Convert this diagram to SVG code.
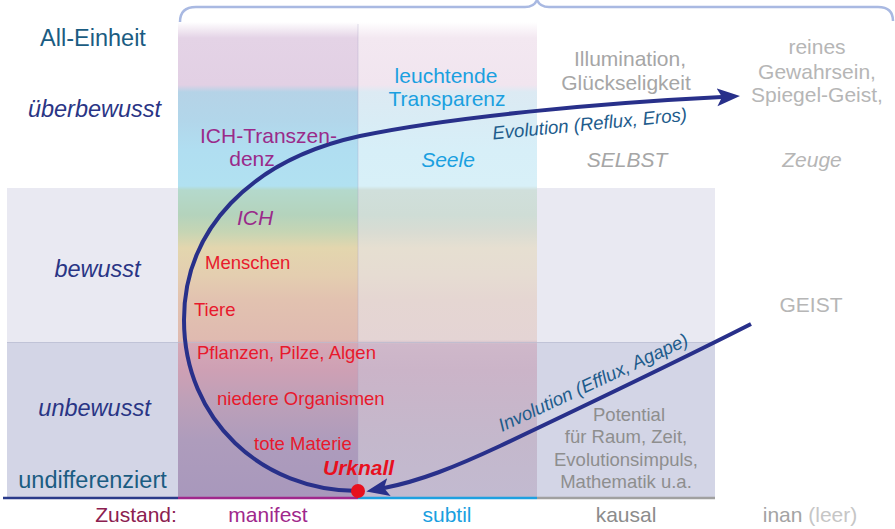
<svg xmlns="http://www.w3.org/2000/svg" width="895" height="529" viewBox="0 0 895 529">
<style>
text{font-family:"Liberation Sans",Arial,Helvetica,sans-serif}
.row{font-size:23.5px;fill:#2a3585;font-style:italic}
.rowt{font-size:23.5px;fill:#1a5c82}
.bot{font-size:21px}
.red{font-size:18.5px;fill:#e8192c}
.pur{font-size:21px;fill:#9a2a8a}
.cy{font-size:21px;fill:#1aa0e0}
.gk{font-size:21px;fill:#a6a6a6}
.gi{font-size:21px;fill:#b6b6b6}
.gp{font-size:18.5px;fill:#8e8e8e}
.conn{fill:none;stroke:#28308a;stroke-width:4}
.clab{font-size:18.6px;font-style:italic;fill:#1e5c8c}
.mid{text-anchor:middle}
</style>
<defs>
<linearGradient id="gMan" gradientUnits="userSpaceOnUse" x1="0" y1="22" x2="0" y2="497">
<stop offset="0" stop-color="#ffffff"/>
<stop offset="0.0337" stop-color="#e4d3e6"/>
<stop offset="0.1326" stop-color="#e2d0e4"/>
<stop offset="0.1474" stop-color="#b5d3e7"/>
<stop offset="0.2063" stop-color="#b2d6ea"/>
<stop offset="0.2695" stop-color="#b0def1"/>
<stop offset="0.3453" stop-color="#b1e1f1"/>
<stop offset="0.3537" stop-color="#b4d9cc"/>
<stop offset="0.4063" stop-color="#b4d3bc"/>
<stop offset="0.4421" stop-color="#c6d5b4"/>
<stop offset="0.4758" stop-color="#e3d6ae"/>
<stop offset="0.5326" stop-color="#e4ceb0"/>
<stop offset="0.5853" stop-color="#e2c2b0"/>
<stop offset="0.6695" stop-color="#dfbab0"/>
<stop offset="0.6779" stop-color="#d5a8b6"/>
<stop offset="0.7326" stop-color="#cea0b4"/>
<stop offset="0.7958" stop-color="#bea0b8"/>
<stop offset="0.88" stop-color="#ae9cbc"/>
<stop offset="1" stop-color="#a898bc"/>
</linearGradient>
<linearGradient id="gSub" gradientUnits="userSpaceOnUse" x1="0" y1="22" x2="0" y2="497">
<stop offset="0" stop-color="#ffffff"/>
<stop offset="0.0337" stop-color="#f3e8f1"/>
<stop offset="0.1326" stop-color="#f1e5ef"/>
<stop offset="0.1474" stop-color="#dceaf3"/>
<stop offset="0.2063" stop-color="#d9ecf5"/>
<stop offset="0.2695" stop-color="#d7eff8"/>
<stop offset="0.3453" stop-color="#d8f0f8"/>
<stop offset="0.3537" stop-color="#d0dfdb"/>
<stop offset="0.4063" stop-color="#cfddd6"/>
<stop offset="0.4421" stop-color="#d9dcd3"/>
<stop offset="0.4758" stop-color="#e6dfd1"/>
<stop offset="0.5326" stop-color="#e6dcd2"/>
<stop offset="0.5853" stop-color="#e5d6d2"/>
<stop offset="0.6695" stop-color="#e4d4d4"/>
<stop offset="0.6779" stop-color="#cfb8ca"/>
<stop offset="0.7326" stop-color="#cbb4c8"/>
<stop offset="0.88" stop-color="#c4b8cc"/>
<stop offset="1" stop-color="#c2bad0"/>
</linearGradient>
<marker id="arr" markerUnits="userSpaceOnUse" markerWidth="26" markerHeight="20" refX="5" refY="9" orient="auto">
<path d="M0,0 L23,9 L0,18 L5,9 z" fill="#28308a"/>
</marker>
</defs>

<g id="background">
<rect x="7" y="188" width="708" height="154" fill="#e9e9f2"/>
<rect x="7" y="342" width="708" height="156" fill="#d3d5e6"/>
<rect x="178" y="22" width="180" height="476" fill="url(#gMan)"/>
<rect x="358" y="22" width="179" height="476" fill="url(#gSub)"/>
<line x1="358" y1="24" x2="358" y2="497" stroke="#a8a4c4" stroke-opacity="0.35" stroke-width="1"/>
<line x1="7" y1="342.5" x2="715" y2="342.5" stroke="#b8bad0" stroke-opacity="0.7" stroke-width="1"/>
<path d="M180,22 Q180,7 196,7 L525,7 Q534,7 537,0 Q540,7 549,7 L878,7 Q893,7 893,21" fill="none" stroke="#a9b9e2" stroke-width="2.5"/>
<line x1="3" y1="498" x2="178" y2="498" stroke="#2a3a8a" stroke-width="2.5"/>
<line x1="178" y1="498" x2="358" y2="498" stroke="#a0288c" stroke-width="2.5"/>
<line x1="358" y1="498" x2="537" y2="498" stroke="#1ea0e0" stroke-width="2.5"/>
<line x1="537" y1="498" x2="715" y2="498" stroke="#a0a0a0" stroke-width="2.5"/>
</g>

<g id="row-labels">
<text class="rowt mid" x="93" y="46">All-Einheit</text>
<text class="row mid" x="94.5" y="117">überbewusst</text>
<text class="row mid" x="97.5" y="277">bewusst</text>
<text class="row mid" x="94.5" y="416">unbewusst</text>
<text class="rowt mid" x="92.5" y="488">undifferenziert</text>
</g>

<g id="column-labels">
<text class="bot mid" x="136" y="522" fill="#8c2050">Zustand:</text>
<text class="bot mid" x="268" y="522" fill="#a0288c">manifest</text>
<text class="bot mid" x="447" y="522" fill="#1aa0e0">subtil</text>
<text class="bot mid" x="626" y="522" fill="#8c8c8c">kausal</text>
<text class="bot mid" x="810" y="522" fill="#a4a4a4">inan <tspan fill="#c6c6c6">(leer)</tspan></text>
</g>

<g id="connectors">
<path id="evolution" class="conn" d="M358,491 C262,491 184,420 184,320 C184,230 250,160 360,136 C450,117 600,103 722,97" marker-end="url(#arr)"/>
<path id="involution" class="conn" d="M751,324 C680,360 580,408 500,446 C455,467 420,481 384,488" marker-end="url(#arr)"/>
<text class="clab" transform="translate(493,139.5) rotate(-5.5)">Evolution (Reflux, Eros)</text>
<text class="clab" transform="translate(502,432) rotate(-25)">Involution (Efflux, Agape)</text>
</g>

<g id="manifest">
<text class="pur mid" x="268.5" y="143">ICH-Transzen-</text>
<text class="pur mid" x="252" y="166">denz</text>
<text class="pur mid" x="255" y="225" font-style="italic">ICH</text>
<text class="red" x="205" y="269">Menschen</text>
<text class="red" x="194" y="316">Tiere</text>
<text class="red" x="197" y="359">Pflanzen, Pilze, Algen</text>
<text class="red" x="217" y="405">niedere Organismen</text>
<text class="red" x="254" y="450">tote Materie</text>
</g>

<g id="urknall">
<text x="323" y="475" font-size="21" font-weight="bold" font-style="italic" fill="#e8101e">Urknall</text>
<circle cx="358" cy="491" r="7" fill="#e8101e"/>
</g>

<g id="subtil">
<text class="cy mid" x="446" y="83">leuchtende</text>
<text class="cy mid" x="447" y="106">Transparenz</text>
<text class="cy mid" x="448" y="167" font-style="italic">Seele</text>
</g>

<g id="kausal">
<text class="gk mid" x="630" y="66">Illumination,</text>
<text class="gk mid" x="626" y="90">Glückseligkeit</text>
<text class="gk mid" x="627" y="167" font-style="italic">SELBST</text>
<text class="gp mid" x="629" y="421">Potential</text>
<text class="gp mid" x="626" y="443">für Raum, Zeit,</text>
<text class="gp mid" x="626" y="466">Evolutionsimpuls,</text>
<text class="gp mid" x="626" y="488">Mathematik u.a.</text>
</g>

<g id="inan">
<text class="gi mid" x="817" y="54">reines</text>
<text class="gi mid" x="817" y="79">Gewahrsein,</text>
<text class="gi mid" x="817" y="102">Spiegel-Geist,</text>
<text class="gi mid" x="812" y="167" font-style="italic">Zeuge</text>
<text class="gi mid" x="811" y="312">GEIST</text>
</g>
</svg>
